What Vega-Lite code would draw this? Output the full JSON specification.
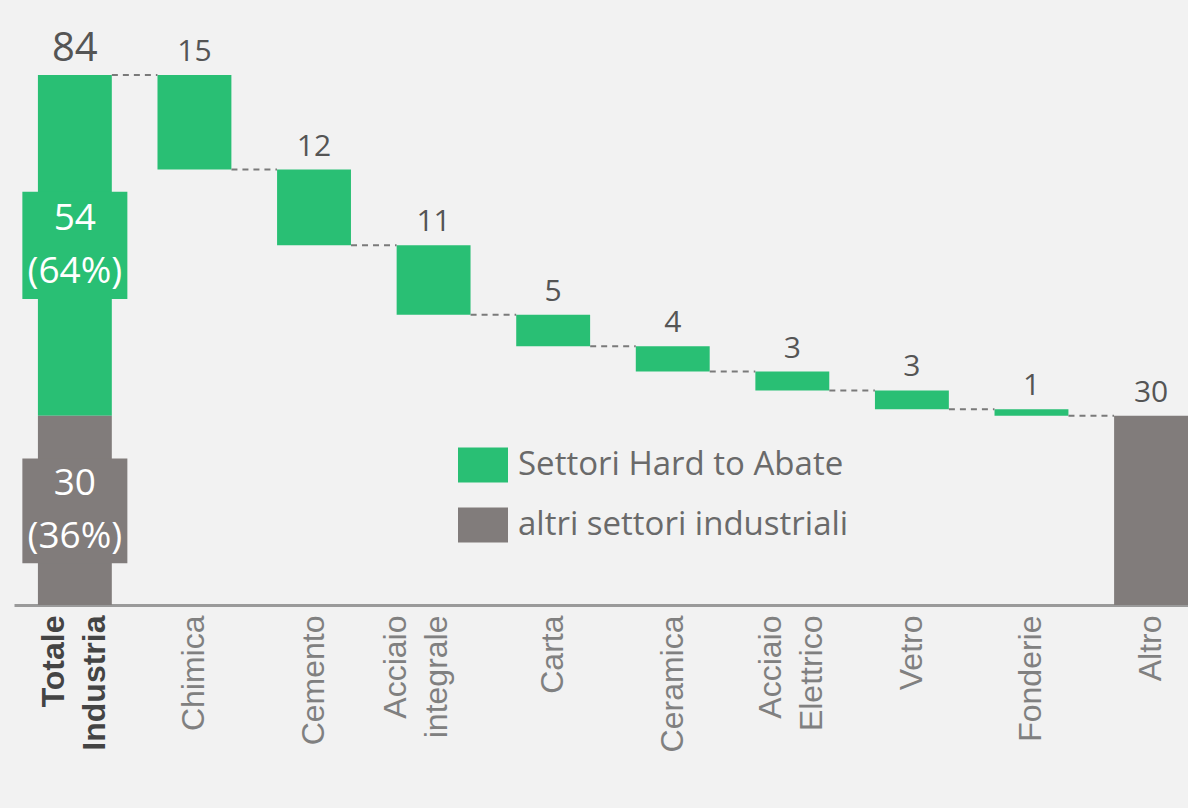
{
  "$schema": "https://vega.github.io/schema/vega-lite/v6.json",
  "autosize": "none",
  "width": 1174,
  "height": 585,
  "padding": {"left": 14, "top": 20, "right": 0, "bottom": 203},
  "background": "#f2f2f2",
  "config": {"view": {"stroke": null}, "font": "Open Sans"},
  "datasets": {
    "bars": [
      {"cat": "Totale Industria", "lo": 30, "hi": 84, "group": "Settori Hard to Abate"},
      {"cat": "Totale Industria", "lo": 0, "hi": 30, "group": "altri settori industriali"},
      {"cat": "Chimica", "lo": 69, "hi": 84, "group": "Settori Hard to Abate"},
      {"cat": "Cemento", "lo": 57, "hi": 69, "group": "Settori Hard to Abate"},
      {"cat": "Acciaio integrale", "lo": 46, "hi": 57, "group": "Settori Hard to Abate"},
      {"cat": "Carta", "lo": 41, "hi": 46, "group": "Settori Hard to Abate"},
      {"cat": "Ceramica", "lo": 37, "hi": 41, "group": "Settori Hard to Abate"},
      {"cat": "Acciaio Elettrico", "lo": 34, "hi": 37, "group": "Settori Hard to Abate"},
      {"cat": "Vetro", "lo": 31, "hi": 34, "group": "Settori Hard to Abate"},
      {"cat": "Fonderie", "lo": 30, "hi": 31, "group": "Settori Hard to Abate"},
      {"cat": "Altro", "lo": 0, "hi": 30, "group": "altri settori industriali"}
    ],
    "tops": [
      {"cat": "Totale Industria", "top": 84, "label": "84"},
      {"cat": "Chimica", "top": 84, "label": "15"},
      {"cat": "Cemento", "top": 69, "label": "12"},
      {"cat": "Acciaio integrale", "top": 57, "label": "11"},
      {"cat": "Carta", "top": 46, "label": "5"},
      {"cat": "Ceramica", "top": 41, "label": "4"},
      {"cat": "Acciaio Elettrico", "top": 37, "label": "3"},
      {"cat": "Vetro", "top": 34, "label": "3"},
      {"cat": "Fonderie", "top": 31, "label": "1"},
      {"cat": "Altro", "top": 30, "label": "30"}
    ],
    "links": [
      {"from": "Totale Industria", "to": "Chimica", "level": 84},
      {"from": "Chimica", "to": "Cemento", "level": 69},
      {"from": "Cemento", "to": "Acciaio integrale", "level": 57},
      {"from": "Acciaio integrale", "to": "Carta", "level": 46},
      {"from": "Carta", "to": "Ceramica", "level": 41},
      {"from": "Ceramica", "to": "Acciaio Elettrico", "level": 37},
      {"from": "Acciaio Elettrico", "to": "Vetro", "level": 34},
      {"from": "Vetro", "to": "Fonderie", "level": 31},
      {"from": "Fonderie", "to": "Altro", "level": 30}
    ],
    "boxes": [
      {"cat": "Totale Industria", "lo": 48.5, "hi": 65.5, "mid": 57, "group": "Settori Hard to Abate", "text": "54\n(64%)"},
      {"cat": "Totale Industria", "lo": 6.6, "hi": 23.2, "mid": 15, "group": "altri settori industriali", "text": "30\n(36%)"}
    ]
  },
  "layer": [
    {
      "data": {"name": "bars"},
      "mark": {"type": "bar"},
      "encoding": {
        "x": {
          "field": "cat", "type": "nominal",
          "scale": {
            "domain": ["Totale Industria", "Chimica", "Cemento", "Acciaio integrale", "Carta", "Ceramica", "Acciaio Elettrico", "Vetro", "Fonderie", "Altro"],
            "paddingInner": 0.382, "paddingOuter": 0.1, "align": 1
          },
          "axis": {
            "title": null,
            "labelAngle": -90,
            "labelExpr": "split(datum.label, ' ')",
            "labelFont": "Liberation Sans",
            "labelFontSize": 32,
            "labelLineHeight": 41,
            "labelColor": {"condition": {"test": "datum.value == 'Totale Industria'", "value": "#444444"}, "value": "#808080"},
            "labelFontWeight": {"condition": {"test": "datum.value == 'Totale Industria'", "value": "bold"}, "value": "normal"},
            "labelOffset": {"condition": [
              {"test": "datum.value == 'Acciaio integrale'", "value": -38},
              {"test": "indexof(datum.value, ' ') > 0", "value": -21}
            ], "value": 0},
            "labelPadding": 10,
            "ticks": false,
            "domainColor": "#9a9a9a",
            "domainWidth": 3
          }
        },
        "y": {"field": "lo", "type": "quantitative", "scale": {"domain": [0, 92.7], "nice": false}, "axis": null},
        "y2": {"field": "hi"},
        "color": {
          "field": "group", "type": "nominal",
          "scale": {"domain": ["Settori Hard to Abate", "altri settori industriali"], "range": ["#29bf74", "#817c7b"]},
          "legend": {
            "title": null,
            "orient": "none",
            "legendX": 444,
            "legendY": 420,
            "padding": 0,
            "symbolType": "M-1,-0.7H1V0.7H-1Z",
            "symbolSize": 2500,
            "symbolStrokeWidth": 0,
            "symbolOpacity": 1,
            "labelFont": "Open Sans",
            "labelFontSize": 33,
            "labelColor": "#6a6a6a",
            "labelOffset": 10,
            "rowPadding": 17,
            "labelLimit": 500
          }
        }
      }
    },
    {
      "data": {"name": "links"},
      "mark": {"type": "rule", "stroke": "#7a7a7a", "strokeWidth": 2, "strokeDash": [6, 5], "xOffset": 37, "x2Offset": -37},
      "encoding": {
        "x": {"field": "from", "type": "nominal"},
        "x2": {"field": "to"},
        "y": {"field": "level", "type": "quantitative"}
      }
    },
    {
      "data": {"name": "boxes"},
      "mark": {"type": "bar", "width": 105},
      "encoding": {
        "x": {"field": "cat", "type": "nominal"},
        "y": {"field": "lo", "type": "quantitative"},
        "y2": {"field": "hi"},
        "color": {"field": "group", "type": "nominal"}
      }
    },
    {
      "data": {"name": "boxes"},
      "mark": {"type": "text", "lineBreak": "\n", "fontSize": 37, "lineHeight": 53, "dy": -26, "color": "#ffffff", "baseline": "middle", "font": "Open Sans"},
      "encoding": {
        "x": {"field": "cat", "type": "nominal"},
        "y": {"field": "mid", "type": "quantitative"},
        "text": {"field": "text"}
      }
    },
    {
      "data": {"name": "tops"},
      "mark": {"type": "text", "baseline": "alphabetic", "dy": -14, "color": "#555555", "font": "Open Sans"},
      "encoding": {
        "x": {"field": "cat", "type": "nominal"},
        "y": {"field": "top", "type": "quantitative"},
        "text": {"field": "label"},
        "size": {"condition": {"test": "datum.cat == 'Totale Industria'", "value": 40}, "value": 30}
      }
    }
  ]
}
